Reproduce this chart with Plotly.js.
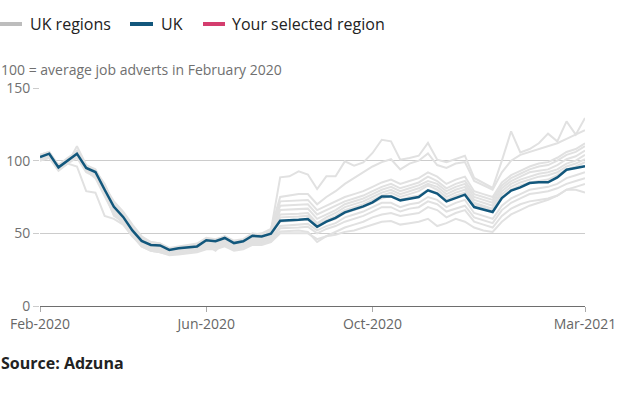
<!DOCTYPE html>
<html>
<head>
<meta charset="utf-8">
<script src="https://cdn.plot.ly/plotly-3.0.1.min.js"></script>
<style>html,body{margin:0;padding:0;background:#fff;}#chart{width:624px;height:394px;}</style>
</head>
<body>
<div id="chart"></div>
<script>
// Weekly index, 60 weeks (Feb-2020 .. Mar-2021)
var tickLabels = ["Feb-2020", "Jun-2020", "Oct-2020", "Mar-2021"];
var tickIndex = [0, 18, 36, 59];

var uk = [102.5,104.8,95.4,100,104.8,95,92.2,80,68.3,61.3,52,44.8,42,41.7,38.6,39.8,40.4,41,45.2,44.6,46.8,43.3,44.5,48.3,47.9,49.8,58.7,58.9,59.3,59.9,54.5,58,60.6,64.4,66.3,68.5,71.3,75.4,75.4,72.7,73.8,75,79.6,77.3,72,74.3,76.6,68.1,66.3,64.7,74.3,79.4,81.6,84.6,85.1,85.1,88.5,93.8,95,96.1];

var region1 = [101,104,97,101,106,96,90,82,72,65,56,48,44,43,40,41,42,43,47,46,48,45,46,50,49,52,88.5,89.2,92.6,90.5,80.5,89.2,89.2,99.5,96.6,98.8,105.3,114.4,113.3,100.7,101.9,103.4,112.2,100.7,99,101,103.4,88.1,84.6,81.2,100,120.2,105.7,108,112,118.6,113.3,127,117.9,129.4];
var region2 = [100,103,94,98,110,97,93,84,70,62,54,46,43,42,39,40,41,42,46,45,47,44,45,49,50,53,75,76,77,77,70,75,79,84,88,92,96,99,101,94,98,100,105,97,95,98,99,86,83,80,92,100,104,106,108,110,112,115,118,121];
var region3 = [104,106,96,101,107,97,94,83,71,64,55,47,44,43,39,40,41,42,46,45,48,44,45,49,48,51,72,72.5,73,73,66,69,72,75,77,79,82,85,87,84,86,88,92,89,84,87,89,79,77,75,85,90,93,96,98,99,102,106,108,112];
var region4 = [103,105,95,100,105,96,92,81,69,62,53,46,43,42,39,40,41,42,45,45,47,44,45,48,48,50,69,69.5,70,70,63,66,69,72,74,76,79,82,84,81,83,85,89,86,81,84,86,77,75,73,83,88,91,94,96,97,100,104,106,110];
var region5 = [102,104,96,99,104,94,91,79,67,60,51,45,42,41,38,39,40,41,44,44,46,43,44,47,47,49,66,66.5,67,67,60,63,66,70,72,74,77,80,82,79,81,83,86,84,79,82,84,75,73,71,81,86,89,92,93,94,97,101,103,107];
var region6 = [101,103,95,99,103,93,90,78,66,59,50,44,41,40,37,38,39,40,43,43,45,42,43,46,46,48,63,63,63.5,64,57,61,64,68,70,72,75,78,80,77,79,81,84,82,77,80,82,73,71,69,79,84,87,89,91,92,94,98,100,104];
var region7 = [100,102,94,98,102,92,89,77,64,57,48,43,40,39,36.5,37,38,39,42,42,44,41,42,45,45,47,61,61,61.5,62,56,59,62,66,68,70,73,76,78,75,77,79,83,80,75,78,80,71,69,67,77,82,85,87,89,90,92,96,98,101];
var region8 = [103,105,96,100,104,94,90,78,62,58,49,42,39,38,36,37,38,39,42,38,44,40,42,45,45,47,55,55.5,56,56.5,52,55,57,61,63,65,68,71,71,68,70,71,75,73,68,71,73,64,62,60,69,74,77,80,81,82,84,88,90,92];
var region9 = [100,102,93,98,96,79,78,62,60,56,48,42,39,38,36,36.5,37,38,41,41,43,40,41,44,44,46,53.5,53.5,54,54.5,50,53,55,58,60,62,65,68,68,65,67,68,72,70,65,67,69,61,59,57,66,71,74,77,78,79,81,84,86,88];
var region10 = [101,103,94,99,103,93,88,76,63,58,49,41,38,37,35.5,36,37,38,40,40,42,39,40,43,43,45,51.3,51.5,52,51,44,48,51,54,56,58,61,63,64,62,63,64,68,66,61,64,66,58,56,54,62,67,70,72,73,74,76,80,82,84];
var region11 = [102,104,95,99,103,93,89,77,63,57,48,41,38,37,35,35.5,36,37,39,39,41,38,39,42,42,44,50,50,50.5,50,46,48,49,51,52,54,56,58,58.5,56,57,58,60,55,57,60,58,54,52,51,58,63,66,69,71,73,76,80,80,78];
var region12 = [104,106,97,102,106,96,93,82,70,63,54,46,43,42,39.5,40,41,42,45,45,47,44,45,48,48,50,58,58.5,59,59.5,54,58,60,64,66,68,71,74,76,73,75,76,80,78,73,76,78,70,68,66,75,80,83,85,86,87,90,94,96,99];

var regions = [region1, region2, region3, region4, region5, region6, region7, region8, region9, region10, region11, region12];

var weeks = uk.map(function(_, i){ return i; });

var W = 624, H = 394;
var mL = 40, mR = 39, mT = 88, mB = 88;
var plotW = W - mL - mR, plotH = H - mT - mB;
function px(x){ return (x - mL) / plotW; }
function py(y){ return (H - mB - y) / plotH; }

var traces = [];
regions.forEach(function(r){
  traces.push({x: weeks, y: r, type: 'scatter', mode: 'lines', line: {color: '#e1e1e1', width: 2}, hoverinfo: 'skip', showlegend: false});
});
traces.push({x: weeks, y: uk, type: 'scatter', mode: 'lines', line: {color: '#12577c', width: 2.5}, hoverinfo: 'skip', showlegend: false});

var font = 'Open Sans, sans-serif';
var legendY = py(24);
var shapes = [
  {type: 'line', xref: 'paper', yref: 'paper', x0: px(0), x1: px(22), y0: legendY, y1: legendY, line: {color: '#bdbdbd', width: 4}},
  {type: 'line', xref: 'paper', yref: 'paper', x0: px(130), x1: px(153), y0: legendY, y1: legendY, line: {color: '#12577c', width: 4}},
  {type: 'line', xref: 'paper', yref: 'paper', x0: px(203), x1: px(225), y0: legendY, y1: legendY, line: {color: '#d43d6e', width: 4}}
];
var annotations = [
  {text: 'UK regions', xref: 'paper', yref: 'paper', x: px(28), y: legendY, xanchor: 'left', yanchor: 'middle', showarrow: false, font: {family: font, size: 16, color: '#222'}},
  {text: 'UK', xref: 'paper', yref: 'paper', x: px(159), y: legendY, xanchor: 'left', yanchor: 'middle', showarrow: false, font: {family: font, size: 16, color: '#222'}},
  {text: 'Your selected region', xref: 'paper', yref: 'paper', x: px(230), y: legendY, xanchor: 'left', yanchor: 'middle', showarrow: false, font: {family: font, size: 16, color: '#222'}},
  {text: '100 = average job adverts in February 2020', xref: 'paper', yref: 'paper', x: px(-1), y: py(69), xanchor: 'left', yanchor: 'middle', showarrow: false, font: {family: font, size: 14, color: '#707070'}},
  {text: '<b>Source: Adzuna</b>', xref: 'paper', yref: 'paper', x: px(-1), y: py(363), xanchor: 'left', yanchor: 'middle', showarrow: false, font: {family: font, size: 16, color: '#222'}}
];

var layout = {
  width: W, height: H,
  margin: {l: mL, r: mR, t: mT, b: mB, pad: 0},
  paper_bgcolor: '#fff', plot_bgcolor: '#fff',
  showlegend: false,
  font: {family: font, color: '#707070', size: 14},
  xaxis: {
    range: [0, 59], tickmode: 'array', tickvals: tickIndex, ticktext: tickLabels,
    showgrid: false, zeroline: false, showline: true, linecolor: '#6e6e6e', linewidth: 1,
    ticks: 'outside', ticklen: 5, tickcolor: '#aaa', tickfont: {family: font, size: 14, color: '#666'}, fixedrange: true
  },
  yaxis: {
    range: [0, 150], tickvals: [0, 50, 100, 150], showgrid: true, gridcolor: '#cccccc', gridwidth: 1,
    zeroline: false, showline: false, ticks: 'outside', ticklen: 6, tickcolor: '#cccccc',
    tickfont: {family: font, size: 14, color: '#707070'}, fixedrange: true
  },
  shapes: shapes,
  annotations: annotations
};

Plotly.newPlot('chart', traces, layout, {displayModeBar: false, staticPlot: true});
</script>
</body>
</html>
